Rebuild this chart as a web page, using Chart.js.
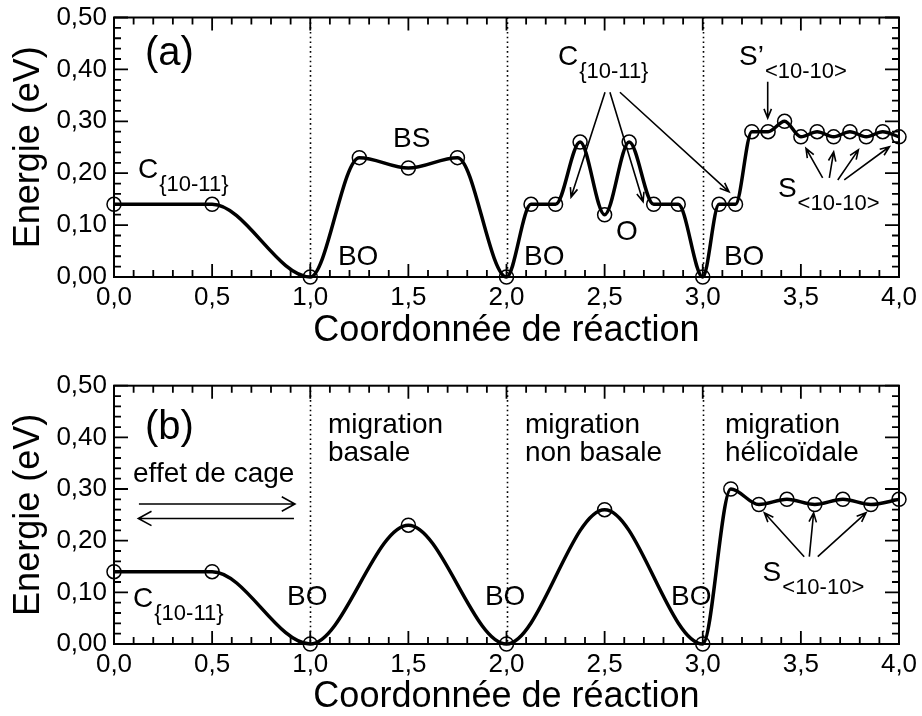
<!DOCTYPE html>
<html lang="fr">
<head>
<meta charset="utf-8">
<title>Energie de migration</title>
<script src="https://cdn.jsdelivr.net/npm/chart.js@4.4.0/dist/chart.umd.min.js"></script>
<style>
  body { margin: 0; background: #fff; }
  canvas { position: absolute; left: 0; }
  #chartA { top: 0; }
  #chartB { top: 350px; }
</style>
</head>
<body>
<canvas id="chartA" width="922" height="350"></canvas>
<canvas id="chartB" width="922" height="366"></canvas>
<script>
// Reaction coordinate and energy of each computed configuration
const coordA = [0, 0.5, 1.0, 1.25, 1.5, 1.75, 2.0, 2.125, 2.25, 2.375, 2.5, 2.625, 2.75, 2.875,
                3.0, 3.083, 3.167, 3.25, 3.333, 3.417, 3.5, 3.583, 3.667, 3.75, 3.833, 3.917, 4.0];
const energyA = [0.14, 0.14, 0.00, 0.23, 0.21, 0.23, 0.00, 0.14, 0.14, 0.26, 0.12, 0.26, 0.14, 0.14,
                 0.00, 0.14, 0.14, 0.28, 0.28, 0.30, 0.27, 0.28, 0.27, 0.28, 0.27, 0.28, 0.27];

const coordB = [0, 0.5, 1.0, 1.5, 2.0, 2.5, 3.0, 3.143, 3.286, 3.429, 3.571, 3.714, 3.857, 4.0];
const energyB = [0.14, 0.14, 0.00, 0.23, 0.00, 0.26, 0.00, 0.30, 0.27, 0.28, 0.27, 0.28, 0.27, 0.28];

const xTicks = [0, 0.5, 1.0, 1.5, 2.0, 2.5, 3.0, 3.5, 4.0];
const yTicks = [0, 0.1, 0.2, 0.3, 0.4, 0.5];
const separators = [1, 2, 3];

const xTitle = 'Coordonnée de réaction';
const yTitle = 'Energie (eV)';

// Labels: position in data units (left edge, baseline), optional subscript
const labelsA = [
  { x: 0.158, y: 0.408, text: '(a)', size: 40 },
  { x: 0.122, y: 0.191, text: 'C', sub: '{10-11}' },
  { x: 1.422, y: 0.250, text: 'BS' },
  { x: 1.141, y: 0.023, text: 'BO' },
  { x: 2.089, y: 0.023, text: 'BO' },
  { x: 2.558, y: 0.071, text: 'O' },
  { x: 3.108, y: 0.023, text: 'BO' },
  { x: 2.262, y: 0.408, text: 'C', sub: '{10-11}' },
  { x: 3.185, y: 0.408, text: 'S\u2019', sub: '<10-10>' },
  { x: 3.383, y: 0.154, text: 'S', sub: '<10-10>' }
];
const arrowsA = [
  [2.502, 0.356, 2.329, 0.154],
  [2.527, 0.356, 2.696, 0.145],
  [2.578, 0.356, 3.134, 0.164],
  [3.331, 0.376, 3.331, 0.306],
  [3.611, 0.191, 3.526, 0.248],
  [3.645, 0.191, 3.667, 0.241],
  [3.688, 0.187, 3.793, 0.245],
  [3.721, 0.187, 3.951, 0.251]
];

const labelsB = [
  { x: 0.158, y: 0.397, text: '(b)', size: 40 },
  { x: 0.097, y: 0.3145, text: 'effet de cage' },
  { x: 1.090, y: 0.409, text: 'migration' },
  { x: 1.090, y: 0.355, text: 'basale' },
  { x: 2.094, y: 0.409, text: 'migration' },
  { x: 2.094, y: 0.355, text: 'non basale' },
  { x: 3.113, y: 0.409, text: 'migration' },
  { x: 3.113, y: 0.355, text: 'hélicoïdale' },
  { x: 0.097, y: 0.072, text: 'C', sub: '{10-11}' },
  { x: 0.882, y: 0.0756, text: 'BO' },
  { x: 1.890, y: 0.0756, text: 'BO' },
  { x: 2.838, y: 0.0756, text: 'BO' },
  { x: 3.305, y: 0.121, text: 'S', sub: '<10-10>' }
];
const arrowsB = [
  [0.127, 0.271, 0.922, 0.271, 15],
  [0.917, 0.243, 0.124, 0.243, 15],
  [3.517, 0.169, 3.314, 0.254],
  [3.543, 0.169, 3.565, 0.254],
  [3.586, 0.169, 3.832, 0.254]
];

const FONT = '"Liberation Sans", Arial, Helvetica, sans-serif';

function fmt(v, d) {
  return v.toFixed(d).replace('.', ',');
}

// Frame, inward ticks, dotted separators, labels and arrows
function decorations(labels, arrows) {
  return {
    id: 'decorations',
    beforeDatasetsDraw(chart) {
      const { ctx, chartArea: a, scales: { x } } = chart;
      ctx.save();
      ctx.strokeStyle = '#000';
      ctx.lineWidth = 1.6;
      ctx.setLineDash([1.6, 3.2]);
      separators.forEach(v => {
        const px = Math.round(x.getPixelForValue(v)) + 0.5;
        ctx.beginPath();
        ctx.moveTo(px, a.top);
        ctx.lineTo(px, a.bottom);
        ctx.stroke();
      });
      ctx.restore();
    },
    afterDatasetsDraw(chart) {
      const { ctx, chartArea: a, scales: { x, y } } = chart;
      ctx.save();
      ctx.strokeStyle = '#000';
      ctx.fillStyle = '#000';
      ctx.lineWidth = 2;
      ctx.strokeRect(a.left, a.top, a.right - a.left, a.bottom - a.top);

      ctx.lineWidth = 1.8;
      ctx.beginPath();
      for (let i = 0; i <= 40; i++) {
        const px = x.getPixelForValue(i / 10);
        const len = i % 5 === 0 ? 13 : 7;
        ctx.moveTo(px, a.bottom); ctx.lineTo(px, a.bottom - len);
        ctx.moveTo(px, a.top); ctx.lineTo(px, a.top + len);
      }
      for (let i = 0; i <= 25; i++) {
        const py = y.getPixelForValue(i / 50);
        const len = i % 5 === 0 ? 14 : 7;
        ctx.moveTo(a.left, py); ctx.lineTo(a.left + len, py);
        ctx.moveTo(a.right, py); ctx.lineTo(a.right - len, py);
      }
      ctx.stroke();

      ctx.textBaseline = 'alphabetic';
      ctx.textAlign = 'left';
      labels.forEach(l => {
        const px = x.getPixelForValue(l.x);
        const py = y.getPixelForValue(l.y);
        ctx.font = (l.size || 28) + 'px ' + FONT;
        ctx.fillText(l.text, px, py);
        if (l.sub) {
          const w = ctx.measureText(l.text).width;
          ctx.font = '22px ' + FONT;
          ctx.fillText(l.sub, px + w + 1, py + 13);
        }
      });

      ctx.lineWidth = 1.6;
      arrows.forEach(([x1, y1, x2, y2, head]) => {
        const ax = x.getPixelForValue(x1), ay = y.getPixelForValue(y1);
        const bx = x.getPixelForValue(x2), by = y.getPixelForValue(y2);
        const ang = Math.atan2(by - ay, bx - ax);
        const h = head || 10;
        const spread = head ? 0.5 : 0.38;
        ctx.beginPath();
        ctx.moveTo(ax, ay);
        ctx.lineTo(bx, by);
        ctx.moveTo(bx - h * Math.cos(ang - spread), by - h * Math.sin(ang - spread));
        ctx.lineTo(bx, by);
        ctx.lineTo(bx - h * Math.cos(ang + spread), by - h * Math.sin(ang + spread));
        ctx.stroke();
      });
      ctx.restore();
    }
  };
}

function buildChart(canvasId, xs, ys, layout, labels, arrows) {
  const ctx = document.getElementById(canvasId).getContext('2d');
  return new Chart(ctx, {
    type: 'line',
    data: {
      datasets: [{
        data: xs.map((v, i) => ({ x: v, y: ys[i] })),
        borderColor: '#000',
        borderWidth: 3.5,
        cubicInterpolationMode: 'monotone',
        pointRadius: 7,
        pointHoverRadius: 7,
        pointBorderWidth: 1.5,
        pointBorderColor: '#000',
        pointBackgroundColor: 'rgba(0,0,0,0)',
        clip: false
      }]
    },
    options: {
      responsive: false,
      animation: false,
      events: [],
      layout: { padding: { left: 0, right: 23, top: layout.top, bottom: 0 } },
      plugins: { legend: { display: false }, tooltip: { enabled: false } },
      scales: {
        x: {
          type: 'linear',
          min: 0,
          max: 4,
          afterBuildTicks: s => { s.ticks = xTicks.map(v => ({ value: v })); },
          afterFit: s => { s.height = layout.xAxis; s.paddingLeft = 0; s.paddingRight = 0; },
          grid: { display: false, drawTicks: false },
          border: { display: false },
          ticks: {
            color: '#000',
            padding: 5,
            maxRotation: 0,
            autoSkip: false,
            font: { family: FONT, size: 26 },
            callback: v => fmt(v, 1)
          },
          title: {
            display: true,
            text: xTitle,
            color: '#000',
            padding: { top: 0, bottom: -3 },
            font: { family: FONT, size: 36 }
          }
        },
        y: {
          type: 'linear',
          min: 0,
          max: 0.5,
          afterBuildTicks: s => { s.ticks = yTicks.map(v => ({ value: v })); },
          afterFit: s => { s.width = 114; s.paddingTop = 0; s.paddingBottom = 0; },
          grid: { display: false, drawTicks: false },
          border: { display: false },
          ticks: {
            color: '#000',
            padding: 7,
            font: { family: FONT, size: 26 },
            callback: v => fmt(v, 2)
          },
          title: {
            display: true,
            text: yTitle,
            color: '#000',
            padding: { top: 7, bottom: 0 },
            font: { family: FONT, size: 36 }
          }
        }
      }
    },
    plugins: [decorations(labels, arrows)]
  });
}

buildChart('chartA', coordA, energyA, { top: 17.5, xAxis: 73 }, labelsA, arrowsA);
buildChart('chartB', coordB, energyB, { top: 35.7, xAxis: 72 }, labelsB, arrowsB);
</script>
</body>
</html>
